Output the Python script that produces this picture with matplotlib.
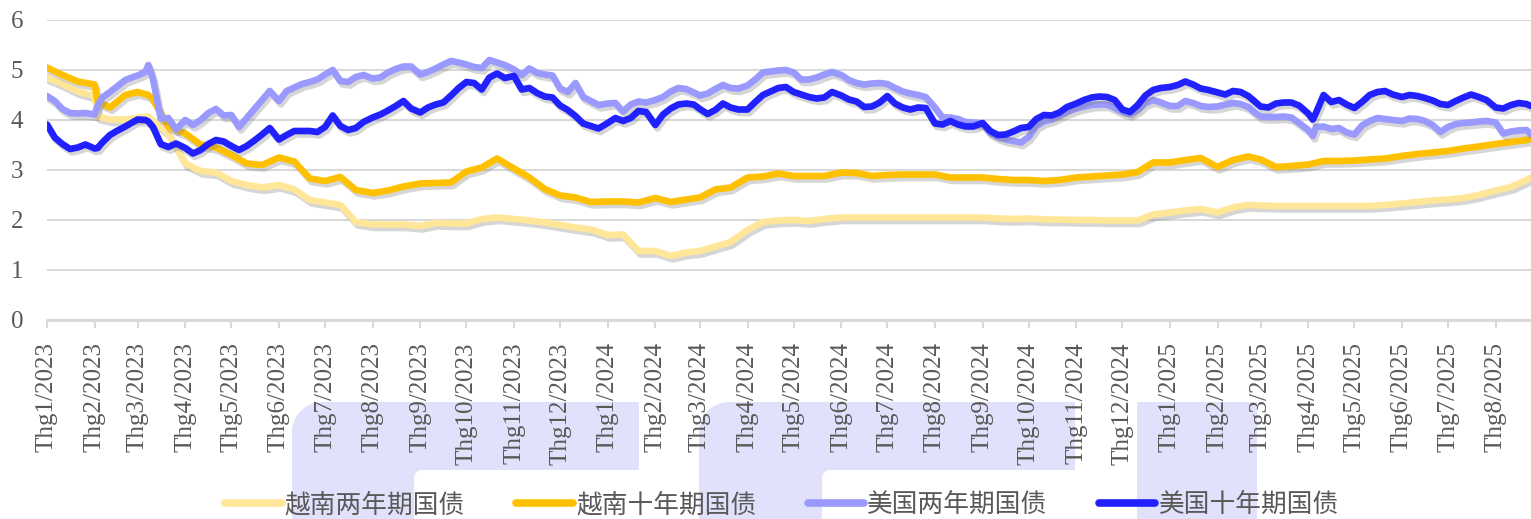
import numpy as np
import pandas as pd
import matplotlib
matplotlib.use("Agg")
import matplotlib.pyplot as plt
import matplotlib.dates as mdates
import matplotlib.patheffects as pe
from matplotlib.patches import Polygon
from matplotlib.lines import Line2D
from matplotlib.ticker import FuncFormatter

# ---------------- data ----------------
# Vietnamese bonds: sampled about every 10 days
vn_dates = [
    "2023-01-01", "2023-01-11", "2023-01-21", "2023-02-01", "2023-02-03", "2023-02-11", "2023-02-21",
    "2023-03-01", "2023-03-08", "2023-03-11", "2023-03-21", "2023-04-01", "2023-04-11", "2023-04-21",
    "2023-05-01", "2023-05-11", "2023-05-21", "2023-06-01", "2023-06-11", "2023-06-21",
    "2023-07-01", "2023-07-11", "2023-07-21", "2023-08-01", "2023-08-11", "2023-08-21",
    "2023-09-01", "2023-09-11", "2023-09-21", "2023-10-01", "2023-10-11", "2023-10-21",
    "2023-11-01", "2023-11-11", "2023-11-21", "2023-12-01", "2023-12-11", "2023-12-21",
    "2024-01-01", "2024-01-11", "2024-01-21", "2024-02-01", "2024-02-11", "2024-02-21",
    "2024-03-01", "2024-03-11", "2024-03-21", "2024-04-01", "2024-04-11", "2024-04-21",
    "2024-05-01", "2024-05-11", "2024-05-21", "2024-06-01", "2024-06-11", "2024-06-21",
    "2024-07-01", "2024-07-11", "2024-07-21", "2024-08-01", "2024-08-11", "2024-08-21",
    "2024-09-01", "2024-09-11", "2024-09-21",
    "2024-10-01", "2024-10-11", "2024-10-21", "2024-11-01", "2024-11-11", "2024-11-21",
    "2024-12-01", "2024-12-11", "2024-12-21", "2025-01-01", "2025-01-11", "2025-01-21",
    "2025-02-01", "2025-02-11", "2025-02-21", "2025-03-01", "2025-03-11", "2025-03-21",
    "2025-04-01", "2025-04-11", "2025-04-21", "2025-05-01", "2025-05-11", "2025-05-21",
    "2025-06-01", "2025-06-11", "2025-06-21", "2025-07-01", "2025-07-11", "2025-07-21",
    "2025-08-01", "2025-08-11", "2025-08-21", "2025-08-24",
]

vn_2y = [
    4.85, 4.72, 4.57, 4.48, 4.07, 4.01, 4.01, 4.04, 4.07, 3.99, 3.73, 3.13, 2.98, 2.95, 2.78, 2.70,
    2.65, 2.70, 2.61, 2.40, 2.35, 2.30, 1.96, 1.91, 1.91, 1.91, 1.88, 1.94, 1.93, 1.93, 2.02, 2.05,
    2.02, 1.99, 1.95, 1.90, 1.85, 1.81, 1.70, 1.71, 1.38, 1.38, 1.28, 1.35, 1.38, 1.47, 1.56, 1.80,
    1.96, 1.99, 2.00, 1.98, 2.02, 2.05, 2.05, 2.05, 2.05, 2.05, 2.05, 2.05, 2.05, 2.05, 2.05, 2.03,
    2.02,
    2.03, 2.01, 2.01, 2.00, 2.00, 1.99, 1.99, 1.99, 2.11, 2.15, 2.19, 2.22, 2.15, 2.25, 2.30, 2.29,
    2.28, 2.28, 2.28, 2.28, 2.28, 2.28, 2.28, 2.30, 2.33, 2.36, 2.39, 2.41, 2.44, 2.50, 2.59, 2.66,
    2.80, 2.85,
]

vn_10y = [
    5.05, 4.90, 4.77, 4.71, 4.37, 4.25, 4.50, 4.56, 4.50, 4.41, 3.87, 3.73, 3.51, 3.45, 3.30, 3.13,
    3.10, 3.25, 3.17, 2.83, 2.78, 2.86, 2.60, 2.54, 2.59, 2.67, 2.73, 2.74, 2.75, 2.97, 3.05, 3.23,
    3.03, 2.85, 2.62, 2.49, 2.45, 2.36, 2.37, 2.37, 2.35, 2.44, 2.36, 2.41, 2.45, 2.61, 2.65, 2.85,
    2.87, 2.93, 2.88, 2.88, 2.88, 2.95, 2.94, 2.88, 2.90, 2.91, 2.91, 2.91, 2.85, 2.85, 2.85, 2.82,
    2.80,
    2.80, 2.78, 2.80, 2.85, 2.87, 2.89, 2.91, 2.96, 3.15, 3.15, 3.20, 3.24, 3.06, 3.20, 3.27, 3.21,
    3.06, 3.08, 3.11, 3.18, 3.18, 3.19, 3.21, 3.23, 3.28, 3.32, 3.35, 3.38, 3.43, 3.47, 3.52, 3.56,
    3.60, 3.62,
]

# US bonds: sampled about every 5 days
us_dates = [
    "2023-01-01", "2023-01-06", "2023-01-11", "2023-01-16", "2023-01-21", "2023-01-26",
    "2023-02-01", "2023-02-03", "2023-02-06", "2023-02-11", "2023-02-16", "2023-02-21", "2023-02-26",
    "2023-03-01", "2023-03-06", "2023-03-08", "2023-03-11", "2023-03-16", "2023-03-21", "2023-03-26",
    "2023-04-01", "2023-04-06", "2023-04-11", "2023-04-16", "2023-04-21", "2023-04-26",
    "2023-05-01", "2023-05-06", "2023-05-11", "2023-05-16", "2023-05-21", "2023-05-26",
    "2023-06-01", "2023-06-06", "2023-06-11", "2023-06-16", "2023-06-21", "2023-06-26",
    "2023-07-01", "2023-07-06", "2023-07-11", "2023-07-16", "2023-07-21", "2023-07-26",
    "2023-08-01", "2023-08-06", "2023-08-11", "2023-08-16", "2023-08-21", "2023-08-26",
    "2023-09-01", "2023-09-06", "2023-09-11", "2023-09-16", "2023-09-21", "2023-09-26",
    "2023-10-01", "2023-10-06", "2023-10-11", "2023-10-16", "2023-10-21", "2023-10-26",
    "2023-11-01", "2023-11-06", "2023-11-11", "2023-11-16", "2023-11-21", "2023-11-26",
    "2023-12-01", "2023-12-06", "2023-12-11", "2023-12-16", "2023-12-21", "2023-12-26",
    "2024-01-01", "2024-01-06", "2024-01-11", "2024-01-16", "2024-01-21", "2024-01-26",
    "2024-02-01", "2024-02-06", "2024-02-11", "2024-02-16", "2024-02-21", "2024-02-26",
    "2024-03-01", "2024-03-06", "2024-03-11", "2024-03-16", "2024-03-21", "2024-03-26",
    "2024-04-01", "2024-04-06", "2024-04-11", "2024-04-16", "2024-04-21", "2024-04-26",
    "2024-05-01", "2024-05-06", "2024-05-11", "2024-05-16", "2024-05-21", "2024-05-26",
    "2024-06-01", "2024-06-06", "2024-06-11", "2024-06-16", "2024-06-21", "2024-06-26",
    "2024-07-01", "2024-07-06", "2024-07-11", "2024-07-16", "2024-07-21", "2024-07-26",
    "2024-08-01", "2024-08-06", "2024-08-11", "2024-08-16", "2024-08-21", "2024-08-26",
    "2024-09-01", "2024-09-06", "2024-09-11", "2024-09-16", "2024-09-21", "2024-09-26",
    "2024-10-01", "2024-10-06", "2024-10-11", "2024-10-16", "2024-10-21", "2024-10-26",
    "2024-11-01", "2024-11-06", "2024-11-11", "2024-11-16", "2024-11-21", "2024-11-26",
    "2024-12-01", "2024-12-06", "2024-12-11", "2024-12-16", "2024-12-21", "2024-12-26",
    "2025-01-01", "2025-01-06", "2025-01-11", "2025-01-16", "2025-01-21", "2025-01-26",
    "2025-02-01", "2025-02-06", "2025-02-11", "2025-02-16", "2025-02-21", "2025-02-26",
    "2025-03-01", "2025-03-06", "2025-03-11", "2025-03-16", "2025-03-21", "2025-03-26",
    "2025-04-01", "2025-04-04", "2025-04-06", "2025-04-11", "2025-04-16", "2025-04-21", "2025-04-26",
    "2025-05-01", "2025-05-06", "2025-05-11", "2025-05-16", "2025-05-21", "2025-05-26",
    "2025-06-01", "2025-06-06", "2025-06-11", "2025-06-16", "2025-06-21", "2025-06-26",
    "2025-07-01", "2025-07-06", "2025-07-11", "2025-07-16", "2025-07-21", "2025-07-26",
    "2025-08-01", "2025-08-06", "2025-08-11", "2025-08-16", "2025-08-21", "2025-08-24",
]

us_2y = [
    4.48, 4.38, 4.22, 4.14, 4.13, 4.14,
    4.11, 4.29, 4.45, 4.56, 4.68, 4.80, 4.86,
    4.89, 4.96, 5.10, 4.82, 4.03, 4.04, 3.81,
    4.00, 3.90, 4.00, 4.14, 4.22, 4.09,
    4.10, 3.86, 4.04, 4.22, 4.40, 4.58,
    4.38, 4.58, 4.65, 4.72, 4.76, 4.81,
    4.91, 5.00, 4.78, 4.76, 4.86, 4.90,
    4.83, 4.85, 4.95, 5.02, 5.07, 5.07,
    4.91, 4.96, 5.03, 5.11, 5.18, 5.15,
    5.11, 5.06, 5.04, 5.20, 5.15, 5.10,
    5.01, 4.90, 5.03, 4.94, 4.91, 4.89,
    4.63, 4.56, 4.74, 4.46, 4.38, 4.30,
    4.33, 4.34, 4.17, 4.31, 4.37, 4.35,
    4.40, 4.46, 4.57, 4.64, 4.62, 4.55,
    4.49, 4.53, 4.62, 4.70, 4.64, 4.63,
    4.69, 4.81, 4.95, 4.97, 4.99, 5.00,
    4.95, 4.81, 4.81, 4.85, 4.91, 4.96,
    4.90, 4.80, 4.74, 4.71, 4.73, 4.74,
    4.72, 4.64, 4.57, 4.53, 4.50, 4.46,
    4.25, 4.05, 4.05, 4.02, 3.96, 3.95,
    3.93, 3.74, 3.66, 3.61, 3.58, 3.55,
    3.66, 3.88, 3.97, 4.01, 4.09, 4.16,
    4.23, 4.27, 4.30, 4.31, 4.31, 4.24,
    4.16, 4.12, 4.20, 4.34, 4.40, 4.35,
    4.28, 4.28, 4.38, 4.34, 4.28, 4.26,
    4.27, 4.31, 4.34, 4.32, 4.26, 4.13,
    4.07, 4.06, 4.06, 4.07, 4.05, 3.94,
    3.80, 3.68, 3.86, 3.87, 3.82, 3.84, 3.75,
    3.71, 3.89, 3.98, 4.04, 4.02, 4.00,
    3.98, 4.03, 4.02, 3.98, 3.90, 3.76,
    3.86, 3.92, 3.94, 3.95, 3.97, 3.98,
    3.95, 3.73, 3.77, 3.79, 3.80, 3.72,
]

us_10y = [
    3.91, 3.65, 3.52, 3.42, 3.45, 3.51,
    3.43, 3.44, 3.55, 3.70, 3.79, 3.87, 3.96,
    4.01, 4.00, 3.97, 3.86, 3.52, 3.46, 3.53,
    3.44, 3.33, 3.40, 3.52, 3.60, 3.57,
    3.48, 3.40, 3.48, 3.59, 3.71, 3.84,
    3.61, 3.70, 3.78, 3.78, 3.78, 3.76,
    3.86, 4.09, 3.88, 3.80, 3.84, 3.96,
    4.05, 4.11, 4.19, 4.28, 4.38, 4.23,
    4.15, 4.25, 4.31, 4.35, 4.49, 4.64,
    4.76, 4.74, 4.61, 4.85, 4.93, 4.84,
    4.88, 4.61, 4.64, 4.54, 4.47, 4.45,
    4.29, 4.20, 4.08, 3.93, 3.88, 3.83,
    3.94, 4.04, 3.98, 4.04, 4.18, 4.16,
    3.90, 4.11, 4.23, 4.31, 4.33, 4.31,
    4.22, 4.12, 4.20, 4.33, 4.25, 4.21,
    4.21, 4.36, 4.50, 4.57, 4.64, 4.66,
    4.56, 4.51, 4.46, 4.43, 4.45, 4.56,
    4.49, 4.41, 4.37, 4.26, 4.27, 4.35,
    4.48, 4.33, 4.25, 4.21, 4.25, 4.24,
    3.93, 3.91, 3.98, 3.91, 3.87, 3.87,
    3.94, 3.78, 3.70, 3.71, 3.77, 3.84,
    3.86, 4.02, 4.10, 4.09, 4.15, 4.26,
    4.33, 4.40, 4.45, 4.47, 4.46, 4.40,
    4.21, 4.16, 4.30, 4.49, 4.60, 4.64,
    4.66, 4.70, 4.77, 4.71, 4.63, 4.60,
    4.55, 4.51, 4.58, 4.56, 4.48, 4.35,
    4.27, 4.25, 4.33, 4.35, 4.35, 4.29,
    4.13, 4.01, 4.14, 4.50, 4.36, 4.40, 4.31,
    4.24, 4.36, 4.50, 4.56, 4.58, 4.51,
    4.46, 4.50, 4.48, 4.44, 4.39, 4.32,
    4.30, 4.38, 4.45, 4.51, 4.46, 4.40,
    4.25, 4.23, 4.30, 4.34, 4.32, 4.28,
]

series_names = ["越南两年期国债", "越南十年期国债", "美国两年期国债", "美国十年期国债"]
series_colors = ["#FFE699", "#FFC000", "#9999FF", "#2121FF"]
y_ticks = [0, 1, 2, 3, 4, 5, 6]
x_start, x_end = "2023-01-01", "2025-08-24"

# ---------------- figure ----------------
W, H = 1531, 519
fig = plt.figure(figsize=(W / 100, H / 100), dpi=100)
fig.patch.set_facecolor("white")

# watermark shapes (decorative, figure pixel coordinates)
wm_color = "#E1E1FB"


def px(pts):
    return [(x / W, 1 - y / H) for x, y in pts]


def arc(cx, cy, r, a0, a1, n=12):
    a = np.radians(np.linspace(a0, a1, n))
    return list(zip(cx + r * np.cos(a), cy + r * np.sin(a)))


def gamma_shape(x0, x1, xs, top=402, bar_bot=470, bottom=530, r=30, ri=8):
    pts = [(x0, bottom)]
    pts += arc(x0 + r, top + r, r, 180, 270)
    pts += [(x1, top), (x1, bar_bot)]
    pts += arc(xs + ri, bar_bot + ri, ri, 270, 180)
    pts += [(xs, bottom)]
    return pts


for shape in [gamma_shape(292, 639, 414), gamma_shape(699, 1075, 822),
              [(1137, 402), (1257, 402), (1257, 530), (1137, 530)]]:
    fig.patches.append(Polygon(px(shape), closed=True, transform=fig.transFigure,
                               facecolor=wm_color, edgecolor="none", zorder=-5))

ax = fig.add_axes([47 / W, 1 - 320 / H, (W - 47) / W, 300 / H])
ax.set_facecolor("none")

xv = pd.to_datetime(vn_dates)
xu = pd.to_datetime(us_dates)
shadow = [pe.SimpleLineShadow(offset=(1.5, -2.5), shadow_color="#7a7a7a", alpha=0.30),
          pe.Normal()]
for xs_, vals, name, col in zip([xv, xv, xu, xu], [vn_2y, vn_10y, us_2y, us_10y],
                                series_names, series_colors):
    ax.plot(xs_, vals, color=col, lw=4.8, solid_joinstyle="round", solid_capstyle="round",
            path_effects=shadow, label=name)

ax.set_ylim(0, 6)
ax.set_yticks(y_ticks)
ax.set_xlim(pd.Timestamp(x_start), pd.Timestamp(x_end))

grid_c = "#D9D9D9"
ax.grid(axis="y", color=grid_c, lw=1.5)
ax.set_axisbelow(True)
for s in ["top", "right", "left"]:
    ax.spines[s].set_visible(False)
ax.spines["bottom"].set_color(grid_c)
ax.spines["bottom"].set_linewidth(2)

ax.xaxis.set_major_locator(mdates.MonthLocator())
ax.xaxis.set_major_formatter(FuncFormatter(
    lambda v, pos: "Thg{}/{}".format(mdates.num2date(v).month, mdates.num2date(v).year)))

tick_family = ["Liberation Serif", "DejaVu Serif"]
tick_color = "#595959"
ax.tick_params(axis="x", direction="out", length=6, width=1.5, color=grid_c, pad=10)
ax.tick_params(axis="y", length=0, pad=17)
for lab in ax.get_xticklabels():
    lab.set_rotation(90)
    lab.set_va("top")
    lab.set_ha("center")
    lab.set_fontfamily(tick_family)
    lab.set_fontsize(18)
    lab.set_color(tick_color)
for lab in ax.get_yticklabels():
    lab.set_fontfamily(tick_family)
    lab.set_fontsize(18)
    lab.set_color(tick_color)

handles = [Line2D([0], [0], color=c, lw=5.5, solid_capstyle="round") for c in series_colors]
fig.legend(handles, series_names, loc="center", bbox_to_anchor=(782 / W, 1 - 505 / H),
           ncol=4, frameon=False, handlelength=2.2, handletextpad=0.12, columnspacing=2.0,
           prop=dict(family=["Noto Sans CJK SC", "DejaVu Sans"], size=18.5), labelcolor=tick_color)

fig.savefig("out.png", dpi=100)
